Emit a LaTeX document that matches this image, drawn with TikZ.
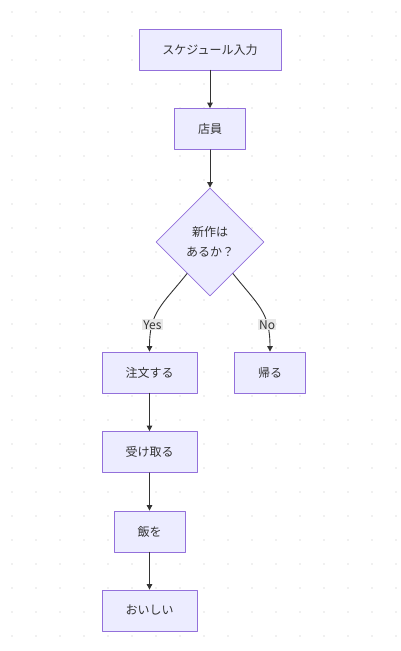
\documentclass[tikz,border=0pt]{standalone}
\usepackage{fontspec}
\setmainfont{Noto Sans CJK JP}
\usetikzlibrary{arrows.meta,shapes.geometric}

\definecolor{boxfill}{HTML}{ECECFF}
\definecolor{boxline}{HTML}{9370DB}
\definecolor{ink}{HTML}{333333}
\definecolor{lblfill}{HTML}{E8E8E8}
\definecolor{dotgray}{HTML}{E2E2E2}

\begin{document}
\begin{tikzpicture}[x=1pt,y=-1pt,>={Triangle[length=5.5pt,width=5.5pt]},line cap=round,line join=round,
  flowbox/.style={draw=boxline,fill=boxfill,line width=0.8pt,minimum height=41pt,inner xsep=23.5pt,inner ysep=0pt,text=ink,font=\fontsize{12}{14}\selectfont},
  decision/.style={diamond,draw=boxline,fill=boxfill,line width=0.8pt,minimum width=108pt,minimum height=108pt,inner sep=0pt,aspect=1,align=center,text=ink,font=\fontsize{12}{20}\selectfont},
  flowline/.style={->,draw=ink,line width=0.9pt},
  edgelabel/.style={fill=lblfill,text=ink,inner sep=1.2pt,font=\fontsize{12}{14}\selectfont}]
\useasboundingbox (0,0) rectangle (400,651);
\fill[white] (0,0) rectangle (400,651);
% background dot grid
\foreach \i in {0,...,16}
  \foreach \j in {0,...,26}
    \fill[dotgray] (12+24*\i,12+24*\j) circle (0.8pt);
\node[flowbox] (sched) at (210,49.5) {スケジュール入力};
\node[flowbox] (staff) at (210,129) {店員};
\node[decision] (newitem) at (210,242) {新作は\\あるか？};
\node[flowbox] (order) at (149.5,372.5) {注文する};
\node[flowbox] (leave) at (270,372.5) {帰る};
\node[flowbox] (receive) at (149.5,452) {受け取る};
\node[flowbox] (meal) at (149.5,531.5) {飯を};
\node[flowbox] (tasty) at (149.5,610.5) {おいしい};
\draw[flowline] (sched) -- (staff);
\draw[flowline] (staff) -- (newitem);
\draw[flowline] (newitem.234) .. controls (162,305) and (149.5,312) .. node[edgelabel,pos=0.72] {Yes} (order.north);
\draw[flowline] (newitem.306) .. controls (258,305) and (270,312) .. node[edgelabel,pos=0.72] {No} (leave.north);
\draw[flowline] (order) -- (receive);
\draw[flowline] (receive) -- (meal);
\draw[flowline] (meal) -- (tasty);
\end{tikzpicture}
\end{document}
